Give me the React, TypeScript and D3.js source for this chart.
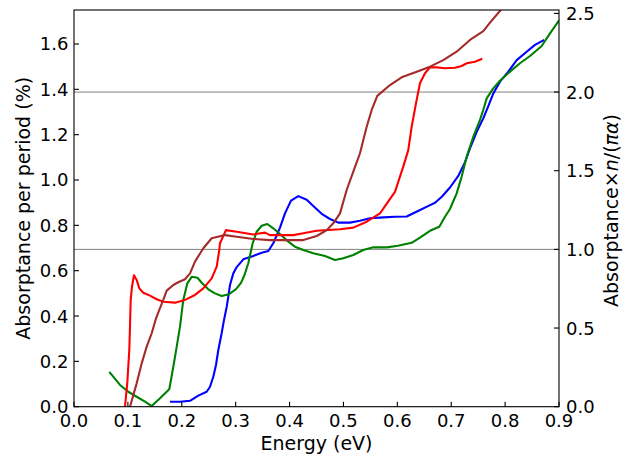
import React from "react";
import * as d3 from "d3";

const xTicks = [0.0, 0.1, 0.2, 0.3, 0.4, 0.5, 0.6, 0.7, 0.8, 0.9];
const yLeftTicks = [0.0, 0.2, 0.4, 0.6, 0.8, 1.0, 1.2, 1.4, 1.6];
const yRightTicks = [0.0, 0.5, 1.0, 1.5, 2.0, 2.5];
const refLinesRight = [1.0, 2.0];
const rightScaleFactor = 1.4409; // right value = left value * factor

const redE = [0.092, 0.0946, 0.0989, 0.1026, 0.1039, 0.1052, 0.1076, 0.1113, 0.1163, 0.1212, 0.1286, 0.141, 0.1535, 0.1657, 0.1874, 0.206, 0.2245, 0.24, 0.2555, 0.2648, 0.2696, 0.2709, 0.282, 0.302, 0.3327, 0.3544, 0.3637, 0.3823, 0.407, 0.4255, 0.4504, 0.4936, 0.5183, 0.5431, 0.5678, 0.5956, 0.611, 0.6203, 0.6266, 0.6346, 0.642, 0.6513, 0.6606, 0.673, 0.6884, 0.707, 0.7194, 0.7287, 0.744, 0.7577];
const redA = [-0.03, 0.0, 0.1045, 0.25, 0.353, 0.471, 0.529, 0.58, 0.559, 0.522, 0.503, 0.49, 0.474, 0.463, 0.459, 0.471, 0.493, 0.522, 0.566, 0.618, 0.691, 0.721, 0.779, 0.772, 0.76, 0.768, 0.757, 0.757, 0.757, 0.765, 0.776, 0.783, 0.79, 0.816, 0.853, 0.948, 1.059, 1.132, 1.235, 1.338, 1.427, 1.471, 1.497, 1.497, 1.493, 1.495, 1.503, 1.515, 1.522, 1.535];

const brownE = [0.101, 0.1039, 0.1163, 0.1256, 0.1349, 0.1442, 0.1522, 0.1583, 0.1657, 0.172, 0.1843, 0.1935, 0.206, 0.2153, 0.2245, 0.24, 0.2555, 0.2802, 0.302, 0.3327, 0.3637, 0.3947, 0.4255, 0.4504, 0.469, 0.4812, 0.4936, 0.506, 0.5183, 0.5307, 0.5431, 0.5524, 0.5628, 0.5864, 0.608, 0.636, 0.6606, 0.6853, 0.71, 0.7348, 0.7595, 0.772, 0.7918, 0.8];
const brownA = [-0.03, 0.0, 0.103, 0.191, 0.265, 0.324, 0.39, 0.427, 0.471, 0.512, 0.537, 0.549, 0.562, 0.588, 0.64, 0.699, 0.743, 0.757, 0.75, 0.74, 0.735, 0.735, 0.735, 0.753, 0.779, 0.809, 0.853, 0.956, 1.037, 1.118, 1.235, 1.309, 1.371, 1.419, 1.453, 1.478, 1.5, 1.529, 1.566, 1.618, 1.657, 1.694, 1.75, 1.78];

const greenE = [0.0655, 0.0854, 0.1008, 0.1163, 0.1318, 0.1442, 0.1596, 0.1768, 0.1843, 0.1906, 0.1967, 0.2028, 0.2102, 0.2184, 0.2292, 0.237, 0.2492, 0.2616, 0.274, 0.2876, 0.3006, 0.3099, 0.3164, 0.3234, 0.3316, 0.339, 0.3483, 0.3587, 0.3698, 0.3823, 0.3977, 0.41, 0.4255, 0.444, 0.4658, 0.4843, 0.4997, 0.5183, 0.5368, 0.5554, 0.5803, 0.601, 0.6266, 0.642, 0.6606, 0.6779, 0.6884, 0.6977, 0.7101, 0.7194, 0.7287, 0.741, 0.7534, 0.7595, 0.7658, 0.7781, 0.7905, 0.809, 0.8276, 0.8462, 0.8679, 0.8833, 0.9005];
const greenA = [0.154, 0.096, 0.066, 0.044, 0.022, 0.003, 0.037, 0.077, 0.176, 0.265, 0.353, 0.471, 0.544, 0.573, 0.569, 0.547, 0.518, 0.5, 0.488, 0.496, 0.519, 0.546, 0.581, 0.633, 0.721, 0.772, 0.798, 0.806, 0.787, 0.762, 0.728, 0.706, 0.691, 0.677, 0.665, 0.647, 0.655, 0.669, 0.691, 0.703, 0.703, 0.71, 0.723, 0.746, 0.776, 0.794, 0.838, 0.872, 0.941, 1.015, 1.103, 1.191, 1.265, 1.309, 1.36, 1.404, 1.438, 1.478, 1.515, 1.547, 1.591, 1.647, 1.706];

const blueE = [0.1781, 0.1967, 0.2153, 0.2307, 0.2462, 0.2524, 0.2585, 0.2635, 0.2678, 0.274, 0.2783, 0.2834, 0.2863, 0.2895, 0.2956, 0.3019, 0.3142, 0.3327, 0.3483, 0.3606, 0.3698, 0.3823, 0.3915, 0.4027, 0.4162, 0.4318, 0.444, 0.4596, 0.475, 0.4904, 0.5122, 0.5307, 0.5493, 0.574, 0.5957, 0.6174, 0.6383, 0.6569, 0.67, 0.683, 0.6977, 0.7131, 0.7256, 0.7348, 0.7473, 0.7595, 0.7688, 0.7781, 0.7905, 0.8059, 0.8215, 0.84, 0.8554, 0.8727];
const blueA = [0.022, 0.022, 0.026, 0.049, 0.066, 0.088, 0.132, 0.184, 0.25, 0.324, 0.382, 0.441, 0.485, 0.537, 0.588, 0.616, 0.65, 0.665, 0.679, 0.687, 0.721, 0.79, 0.853, 0.909, 0.929, 0.913, 0.885, 0.851, 0.828, 0.812, 0.812, 0.82, 0.831, 0.835, 0.838, 0.839, 0.863, 0.885, 0.9, 0.927, 0.967, 1.018, 1.079, 1.14, 1.213, 1.272, 1.326, 1.382, 1.434, 1.478, 1.529, 1.566, 1.596, 1.618];

const seriesList = [
  { name: "blue", color: "#0000ff", e: blueE, a: blueA },
  { name: "green", color: "#008000", e: greenE, a: greenA },
  { name: "red", color: "#ff0000", e: redE, a: redA },
  { name: "brown", color: "#a52a2a", e: brownE, a: brownA },
];

const W = 629;
const H = 455;
const L = 74;
const R = 559;
const T = 10;
const B = 406.7;
const FONT = "DejaVu Sans, sans-serif";
const FS = 18;
const LFS = 19;

export default function App() {
  const x = d3.scaleLinear().domain([0, 0.9]).range([L, R]);
  const yL = d3.scaleLinear().domain([0, 1.75]).range([B, T]);
  const yR = d3.scaleLinear().domain([0, 1.75 * rightScaleFactor]).range([B, T]);
  const line = d3
    .line<[number, number]>()
    .x((d) => x(d[0]))
    .y((d) => yL(d[1]));

  return (
    <svg
      width={W}
      height={H}
      style={{ position: "absolute", left: 0, top: 0, background: "#fff" }}
      fontFamily={FONT}
    >
      <defs>
        <clipPath id="plotClip">
          <rect x={L} y={T} width={R - L} height={B - T} />
        </clipPath>
      </defs>
      <rect x={0} y={0} width={W} height={H} fill="#fff" />
      {refLinesRight.map((v) => (
        <line key={v} x1={L} x2={R} y1={yR(v)} y2={yR(v)} stroke="#808080" strokeWidth={1} />
      ))}
      <g clipPath="url(#plotClip)">
        {seriesList.map((s) => (
          <path
            key={s.name}
            d={line(s.e.map((e, i) => [e, s.a[i]] as [number, number])) || ""}
            fill="none"
            stroke={s.color}
            strokeWidth={2.1}
            strokeLinejoin="round"
          />
        ))}
      </g>
      <rect x={L} y={T} width={R - L} height={B - T} fill="none" stroke="#000" strokeWidth={1.1} />
      {xTicks.map((t) => (
        <g key={"x" + t}>
          <line x1={x(t)} x2={x(t)} y1={B} y2={B - 5} stroke="#000" strokeWidth={1.1} />
          <text x={x(t)} y={426.7} textAnchor="middle" fontSize={FS} fill="#000">
            {t.toFixed(1)}
          </text>
        </g>
      ))}
      {yLeftTicks.map((t) => (
        <g key={"yl" + t}>
          <line x1={L} x2={L + 5} y1={yL(t)} y2={yL(t)} stroke="#000" strokeWidth={1.1} />
          <text x={68.5} y={yL(t)} dy="0.36em" textAnchor="end" fontSize={FS} fill="#000">
            {t.toFixed(1)}
          </text>
        </g>
      ))}
      {yRightTicks.map((t) => (
        <g key={"yr" + t}>
          <line x1={R} x2={R - 5} y1={yR(t)} y2={yR(t)} stroke="#000" strokeWidth={1.1} />
          <text x={566} y={yR(t)} dy="0.36em" textAnchor="start" fontSize={FS} fill="#000">
            {t.toFixed(1)}
          </text>
        </g>
      ))}
      <text x={(L + R) / 2} y={450} textAnchor="middle" fontSize={LFS} fill="#000">
        Energy (eV)
      </text>
      <text
        transform={`translate(29.5,208.3) rotate(-90)`}
        textAnchor="middle"
        fontSize={LFS}
        fill="#000"
      >
        Absorptance per period (%)
      </text>
      <text
        transform={`translate(618,210.5) rotate(-90)`}
        textAnchor="middle"
        fontSize={LFS}
        fill="#000"
      >
        Absorptance×<tspan fontStyle="italic">n</tspan>/(<tspan fontStyle="italic">πα</tspan>)
      </text>
    </svg>
  );
}
